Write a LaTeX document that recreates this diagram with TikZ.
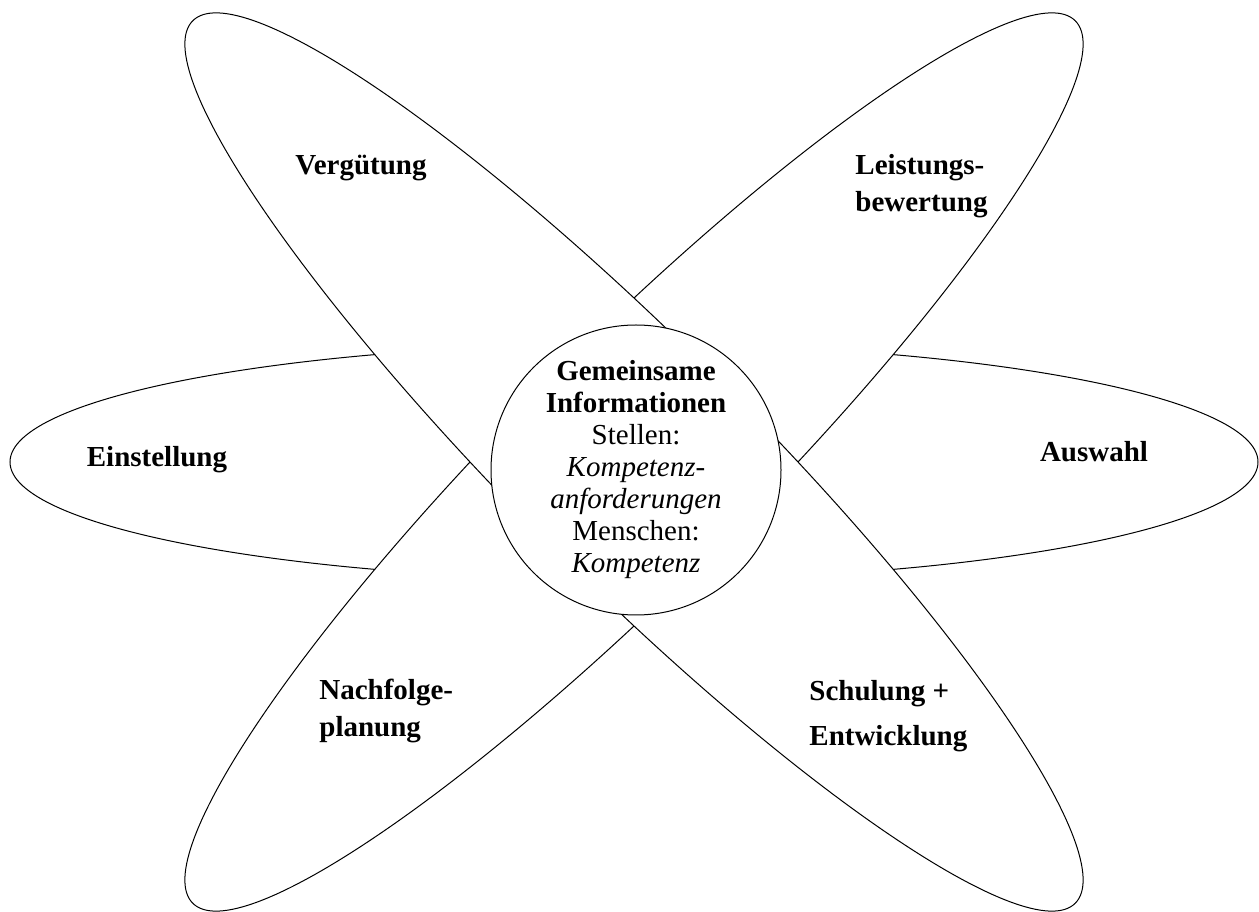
\documentclass[tikz,border=0pt]{standalone}
\usepackage{fontspec}
\setmainfont{Liberation Serif}

\begin{document}
\begin{tikzpicture}[x=0.5pt,y=0.5pt,
  petal/.style={draw,fill=white,line width=0.5pt},
  ptext/.style={font=\bfseries\fontsize{14.5}{18.5}\selectfont,align=left,inner sep=0pt}]
  \useasboundingbox (0,0) rectangle (1259,911);
  \coordinate (c) at (634,449);
  \path[petal] (c) ellipse [x radius=312pt,y radius=59pt];
  \path[petal,rotate around={45:(c)}] (c) ellipse [x radius=312pt,y radius=59pt];
  \path[petal,rotate around={-45:(c)}] (c) ellipse [x radius=312pt,y radius=59pt];
  \node[circle,draw,fill=white,line width=0.5pt,minimum size=145pt,inner sep=0pt,
    align=center,font=\fontsize{14.5}{16}\selectfont] (mid) at (636,441)
    {\textbf{Gemeinsame}\\\textbf{Informationen}\\Stellen:\\\textit{Kompetenz-}\\
     \textit{anforderungen}\\Menschen:\\\textit{Kompetenz}};
  \node[ptext,anchor=base] (verg) at (361,736) {Vergütung};
  \node[ptext,anchor=base west] (leist) at (855,699) {Leistungs-\\bewertung};
  \node[ptext,anchor=base] (einst) at (157,444) {Einstellung};
  \node[ptext,anchor=base] (ausw) at (1094,449) {Auswahl};
  \node[ptext,anchor=base west] (nachf) at (319,174) {Nachfolge-\\planung};
  \node[ptext,anchor=base west,font=\bfseries\fontsize{14.5}{22.5}\selectfont] (schul) at (809,165)
    {Schulung +\\Entwicklung};
\end{tikzpicture}
\end{document}
